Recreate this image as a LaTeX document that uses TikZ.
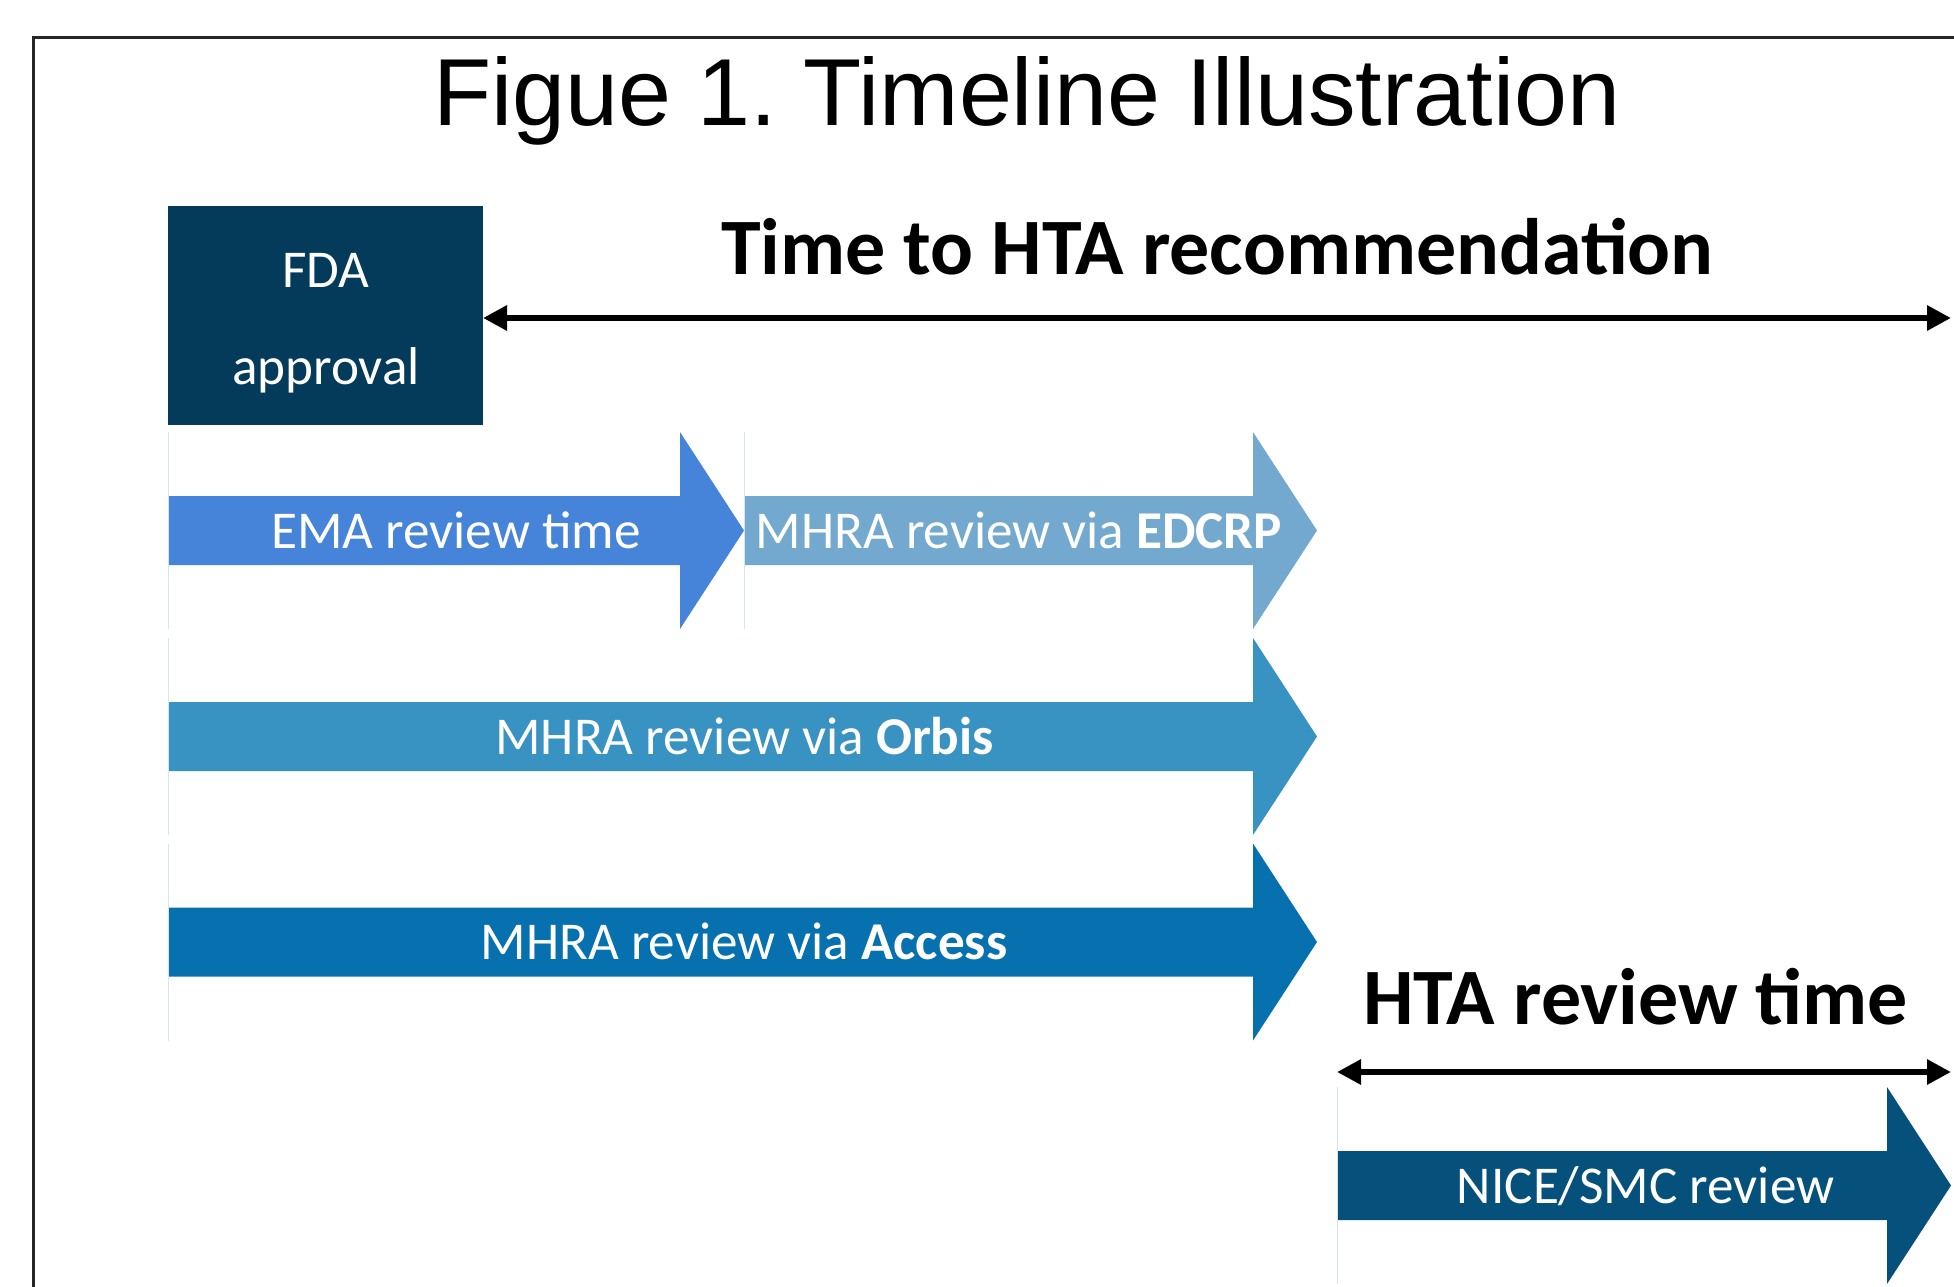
\documentclass[tikz,border=0pt]{standalone}
\usepackage{fontspec}
\setmainfont{Carlito}
\newfontfamily\arialfont{Liberation Sans}
\usetikzlibrary{arrows.meta}
\frenchspacing
\definecolor{fdacol}{RGB}{4,58,90}
\definecolor{emacol}{RGB}{70,132,217}
\definecolor{edcrpcol}{RGB}{116,169,207}
\definecolor{orbiscol}{RGB}{56,146,194}
\definecolor{accesscol}{RGB}{7,113,176}
\definecolor{nicecol}{RGB}{6,80,124}
\definecolor{faintcol}{RGB}{214,227,243}
\newcommand\tlbar[4]{%
  \fill[#4] (#1,#3-34.5) -- (#2-64,#3-34.5) -- (#2-64,#3-98.5) -- (#2,#3)
    -- (#2-64,#3+98.5) -- (#2-64,#3+34.5) -- (#1,#3+34.5) -- cycle;
  \draw[faintline] (#1,#3-98.5) -- (#1,#3+98.5);}
\tikzset{
  faintline/.style={draw=faintcol, line width=0.5pt},
  bartext/.style={anchor=base, text=white, font=\fontsize{26.6}{30}\selectfont, inner sep=0pt},
  heading/.style={anchor=base, font=\fontsize{40}{44}\selectfont\bfseries, inner sep=0pt},
  dimarrow/.style={line width=3pt, {Triangle[length=12pt,width=12pt]}-{Triangle[length=12pt,width=12pt]}},
  fdabox/.style={fill=fdacol, minimum width=157.5pt, minimum height=109.5pt, inner sep=0pt},
}
\begin{document}
\begin{tikzpicture}[x=0.5pt,y=-0.5pt]
\useasboundingbox (0,0) rectangle (1954,1286);
% frame
\draw[line width=1.5pt, draw=black!85] (33,1300) -- (33,37) -- (1970,37);
% title
\node[anchor=base, inner sep=0pt, font=\arialfont\fontsize{47.6}{52}\selectfont] (title) at (1027,125) {Figue 1. Timeline Illustration};
% FDA box
\node[fdabox] (fda) at (325.5,315.5) {};
\node[bartext] (fdat1) at (326,287) {FDA};
\node[bartext] (fdat2) at (326,384) {approval};
% headings
\node[heading] (h1) at (1217.5,274) {Time to HTA recommendation};
\node[heading] (h2) at (1635.6,1024) {HTA review time};
% dimension arrows
\coordinate (tL) at (483,318);
\coordinate (tR) at (1951,318);
\draw[dimarrow] (tL) -- (tR);
\coordinate (hL) at (1337,1072);
\coordinate (hR) at (1951,1072);
\draw[dimarrow] (hL) -- (hR);
% bars
\tlbar{168}{744}{530.5}{emacol}
\tlbar{744}{1317}{530.5}{edcrpcol}
\tlbar{168}{1317}{736.5}{orbiscol}
\tlbar{168}{1317}{942}{accesscol}
\tlbar{1337}{1951}{1185.5}{nicecol}
% bar labels
\node[bartext] (ema) at (456,548) {EMA review time};
\node[bartext] (edcrp) at (1019,548) {MHRA review via \textbf{EDCRP}};
\node[bartext] (orbis) at (744.6,754) {MHRA review via \textbf{Orbis}};
\node[bartext] (access) at (744,959.5) {MHRA review via \textbf{Access}};
\node[bartext] (nice) at (1645.6,1203) {NICE/SMC review};
\end{tikzpicture}
\end{document}
